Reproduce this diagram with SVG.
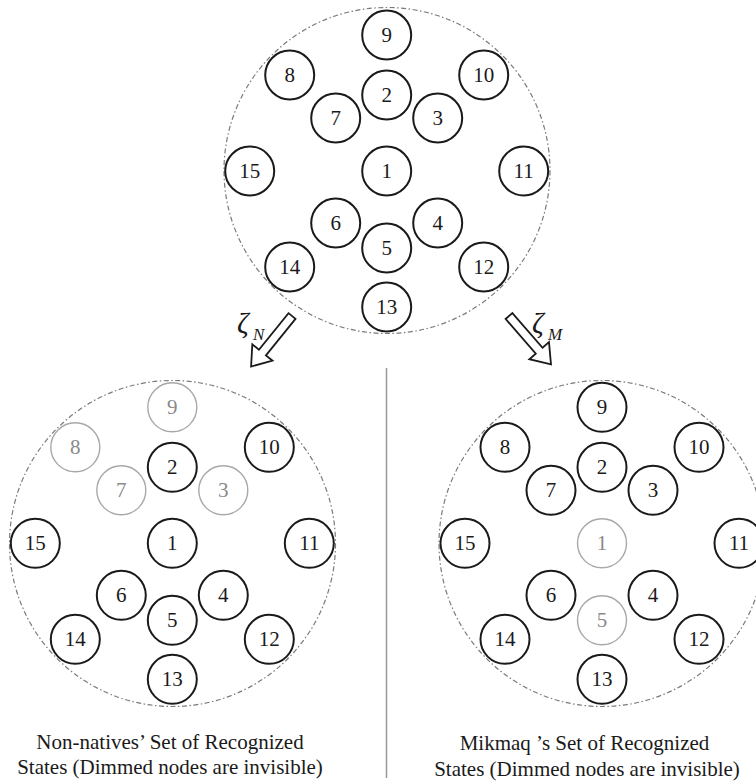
<svg xmlns="http://www.w3.org/2000/svg" width="756" height="781" viewBox="0 0 756 781">
<style>
.bg{fill:#fff}
.set{fill:none;stroke:#7a7a7a;stroke-width:1.2;stroke-dasharray:5 2.5 1.5 2.5}
.n circle{fill:#fff;stroke:#1a1a1a;stroke-width:2}
.n text{font-family:"Liberation Serif","Times New Roman",serif;font-size:21px;fill:#1a1a1a;text-anchor:middle}
.d circle{fill:#fff;stroke:#a8a8a8;stroke-width:1.4}
.d text{font-family:"Liberation Serif","Times New Roman",serif;font-size:21px;fill:#8a8a8a;text-anchor:middle}
.arr{fill:#fff;stroke:#1a1a1a;stroke-width:1.8;stroke-linejoin:miter}
.lbl{font-family:"Liberation Serif","Times New Roman",serif;font-style:italic;fill:#1a1a1a}
.cap{font-family:"Liberation Serif","Times New Roman",serif;font-size:21px;fill:#1a1a1a;text-anchor:middle}
.div{stroke:#999;stroke-width:1.5}
</style>
<rect class="bg" x="0" y="0" width="756" height="781"/>

<g id="sets">
<circle class="set" cx="387" cy="170.5" r="163"/>
<circle class="set" cx="172.5" cy="543.5" r="163"/>
<circle class="set" cx="602" cy="543.5" r="163"/>
</g>

<g id="connectors">
<polygon class="arr" transform="translate(292,316) rotate(129)" points="0,-4.5 47,-4.5 47,-13 65,0 47,13 47,4.5 0,4.5"/>
<polygon class="arr" transform="translate(509,316) rotate(49)" points="0,-4.5 46,-4.5 46,-13 64,0 46,13 46,4.5 0,4.5"/>
<text class="lbl" x="237" y="333" font-size="29">ζ</text>
<text class="lbl" x="253" y="340" font-size="17">N</text>
<text class="lbl" x="532" y="333" font-size="29">ζ</text>
<text class="lbl" x="548" y="340" font-size="17">M</text>
<line class="div" x1="386.5" y1="368" x2="386.5" y2="778"/>
</g>

<!-- top set: center (386.7,171) -->
<g id="top-9" class="n"><circle cx="386.7" cy="35" r="24.5"/><text x="386.7" y="42">9</text></g>
<g id="top-8" class="n"><circle cx="289.7" cy="75" r="24.5"/><text x="289.7" y="82">8</text></g>
<g id="top-10" class="n"><circle cx="483.7" cy="75" r="24.5"/><text x="483.7" y="82">10</text></g>
<g id="top-2" class="n"><circle cx="386.7" cy="95" r="24.5"/><text x="386.7" y="102">2</text></g>
<g id="top-7" class="n"><circle cx="335.7" cy="118" r="24.5"/><text x="335.7" y="125">7</text></g>
<g id="top-3" class="n"><circle cx="437.7" cy="118" r="24.5"/><text x="437.7" y="125">3</text></g>
<g id="top-15" class="n"><circle cx="249.7" cy="171" r="24.5"/><text x="249.7" y="178">15</text></g>
<g id="top-1" class="n"><circle cx="386.7" cy="171" r="24.5"/><text x="386.7" y="178">1</text></g>
<g id="top-11" class="n"><circle cx="523.7" cy="171" r="24.5"/><text x="523.7" y="178">11</text></g>
<g id="top-6" class="n"><circle cx="335.7" cy="223" r="24.5"/><text x="335.7" y="230">6</text></g>
<g id="top-4" class="n"><circle cx="437.7" cy="223" r="24.5"/><text x="437.7" y="230">4</text></g>
<g id="top-5" class="n"><circle cx="386.7" cy="248" r="24.5"/><text x="386.7" y="255">5</text></g>
<g id="top-14" class="n"><circle cx="289.7" cy="267" r="24.5"/><text x="289.7" y="274">14</text></g>
<g id="top-12" class="n"><circle cx="483.7" cy="267" r="24.5"/><text x="483.7" y="274">12</text></g>
<g id="top-13" class="n"><circle cx="386.7" cy="307" r="24.5"/><text x="386.7" y="314">13</text></g>

<!-- bottom-left set: center (172.3,543.3) -->
<g id="nn-9" class="d"><circle cx="172.3" cy="407.3" r="24.5"/><text x="172.3" y="414.3">9</text></g>
<g id="nn-8" class="d"><circle cx="75.3" cy="447.3" r="24.5"/><text x="75.3" y="454.3">8</text></g>
<g id="nn-10" class="n"><circle cx="269.3" cy="447.3" r="24.5"/><text x="269.3" y="454.3">10</text></g>
<g id="nn-2" class="n"><circle cx="172.3" cy="467.3" r="24.5"/><text x="172.3" y="474.3">2</text></g>
<g id="nn-7" class="d"><circle cx="121.3" cy="490.3" r="24.5"/><text x="121.3" y="497.3">7</text></g>
<g id="nn-3" class="d"><circle cx="223.3" cy="490.3" r="24.5"/><text x="223.3" y="497.3">3</text></g>
<g id="nn-15" class="n"><circle cx="35.3" cy="543.3" r="24.5"/><text x="35.3" y="550.3">15</text></g>
<g id="nn-1" class="n"><circle cx="172.3" cy="543.3" r="24.5"/><text x="172.3" y="550.3">1</text></g>
<g id="nn-11" class="n"><circle cx="309.3" cy="543.3" r="24.5"/><text x="309.3" y="550.3">11</text></g>
<g id="nn-6" class="n"><circle cx="121.3" cy="595.3" r="24.5"/><text x="121.3" y="602.3">6</text></g>
<g id="nn-4" class="n"><circle cx="223.3" cy="595.3" r="24.5"/><text x="223.3" y="602.3">4</text></g>
<g id="nn-5" class="n"><circle cx="172.3" cy="620.3" r="24.5"/><text x="172.3" y="627.3">5</text></g>
<g id="nn-14" class="n"><circle cx="75.3" cy="639.3" r="24.5"/><text x="75.3" y="646.3">14</text></g>
<g id="nn-12" class="n"><circle cx="269.3" cy="639.3" r="24.5"/><text x="269.3" y="646.3">12</text></g>
<g id="nn-13" class="n"><circle cx="172.3" cy="679.3" r="24.5"/><text x="172.3" y="686.3">13</text></g>

<!-- bottom-right set: center (602,543.3) -->
<g id="mk-9" class="n"><circle cx="602" cy="407.3" r="24.5"/><text x="602" y="414.3">9</text></g>
<g id="mk-8" class="n"><circle cx="505" cy="447.3" r="24.5"/><text x="505" y="454.3">8</text></g>
<g id="mk-10" class="n"><circle cx="699" cy="447.3" r="24.5"/><text x="699" y="454.3">10</text></g>
<g id="mk-2" class="n"><circle cx="602" cy="467.3" r="24.5"/><text x="602" y="474.3">2</text></g>
<g id="mk-7" class="n"><circle cx="551" cy="490.3" r="24.5"/><text x="551" y="497.3">7</text></g>
<g id="mk-3" class="n"><circle cx="653" cy="490.3" r="24.5"/><text x="653" y="497.3">3</text></g>
<g id="mk-15" class="n"><circle cx="465" cy="543.3" r="24.5"/><text x="465" y="550.3">15</text></g>
<g id="mk-1" class="d"><circle cx="602" cy="543.3" r="24.5"/><text x="602" y="550.3">1</text></g>
<g id="mk-11" class="n"><circle cx="739" cy="543.3" r="24.5"/><text x="739" y="550.3">11</text></g>
<g id="mk-6" class="n"><circle cx="551" cy="595.3" r="24.5"/><text x="551" y="602.3">6</text></g>
<g id="mk-4" class="n"><circle cx="653" cy="595.3" r="24.5"/><text x="653" y="602.3">4</text></g>
<g id="mk-5" class="d"><circle cx="602" cy="620.3" r="24.5"/><text x="602" y="627.3">5</text></g>
<g id="mk-14" class="n"><circle cx="505" cy="639.3" r="24.5"/><text x="505" y="646.3">14</text></g>
<g id="mk-12" class="n"><circle cx="699" cy="639.3" r="24.5"/><text x="699" y="646.3">12</text></g>
<g id="mk-13" class="n"><circle cx="602" cy="679.3" r="24.5"/><text x="602" y="686.3">13</text></g>

<g id="captions">
<text class="cap" x="170" y="749">Non-natives’ Set of Recognized</text>
<text class="cap" x="170" y="774">States (Dimmed nodes are invisible)</text>
<text class="cap" x="584.5" y="750">Mikmaq ’s Set of Recognized</text>
<text class="cap" x="587" y="775.5">States (Dimmed nodes are invisible)</text>
</g>
</svg>
